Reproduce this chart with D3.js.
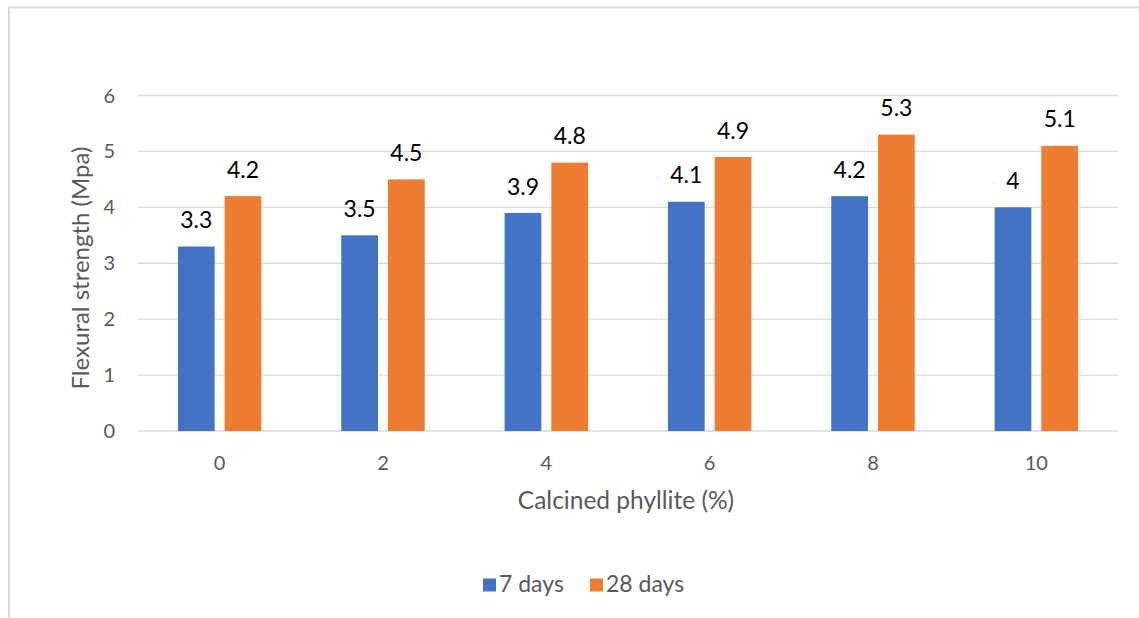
<!DOCTYPE html>
<html>
<head>
<meta charset="utf-8">
<script src="https://cdn.jsdelivr.net/npm/d3@7"></script>
<style>
  html, body { margin: 0; padding: 0; background: #ffffff; }
  svg { display: block; }
  text { font-family: Lato, "Open Sans", sans-serif; }
</style>
</head>
<body>
<svg id="chart" width="1139" height="618"></svg>
<script>
const categories = ["0", "2", "4", "6", "8", "10"];
const seriesNames = ["7 days", "28 days"];
const values7 = [3.3, 3.5, 3.9, 4.1, 4.2, 4.0];
const values28 = [4.2, 4.5, 4.8, 4.9, 5.3, 5.1];
const yTicks = [0, 1, 2, 3, 4, 5, 6];
const colors = ["#4472c4", "#ed7d31"];
const xTitle = "Calcined phyllite (%)";
const yTitle = "Flexural strength (Mpa)";

const seriesValues = [values7, values28];
const svg = d3.select("#chart");

// chart border (extends past the right and bottom edge, as in the reference)
svg.append("rect")
  .attr("x", 9).attr("y", 7.5)
  .attr("width", 1200).attr("height", 700)
  .attr("fill", "none").attr("stroke", "#d9d9d9").attr("stroke-width", 2);

const plotLeft = 138, plotRight = 1118, plotTop = 95.5, plotBottom = 431;

const x0 = d3.scaleBand().domain(categories).range([plotLeft, plotRight]).paddingInner(0).paddingOuter(0);
const x1 = d3.scaleBand().domain(seriesNames).range([0, x0.bandwidth()])
  .paddingInner(0.214).paddingOuter(0.855);
const y = d3.scaleLinear().domain([0, 6]).range([plotBottom, plotTop]);

// gridlines
svg.append("g").selectAll("line").data(yTicks).join("line")
  .attr("x1", plotLeft).attr("x2", plotRight)
  .attr("y1", d => y(d)).attr("y2", d => y(d))
  .attr("stroke", "#d9d9d9").attr("stroke-width", 1.3);

// y tick labels
svg.append("g").selectAll("text").data(yTicks).join("text")
  .attr("x", 115).attr("y", d => y(d))
  .attr("dy", "0.35em")
  .attr("text-anchor", "end")
  .attr("fill", "#595959").attr("font-size", 20)
  .text(d => d);

// bars
const groups = svg.append("g").selectAll("g").data(categories).join("g")
  .attr("transform", c => `translate(${x0(c)},0)`);

groups.selectAll("rect")
  .data((c, i) => seriesNames.map((s, k) => ({ s, k, v: seriesValues[k][i] })))
  .join("rect")
  .attr("x", d => x1(d.s))
  .attr("width", x1.bandwidth())
  .attr("y", d => y(d.v))
  .attr("height", d => y(0) - y(d.v))
  .attr("fill", d => colors[d.k]);

groups.selectAll("text.val")
  .data((c, i) => seriesNames.map((s, k) => ({ s, k, v: seriesValues[k][i] })))
  .join("text")
  .attr("class", "val")
  .attr("x", d => x1(d.s) + x1.bandwidth() / 2)
  .attr("y", d => y(d.v) - 18.4)
  .attr("text-anchor", "middle")
  .attr("fill", "#000000").attr("font-size", 23)
  .text(d => d.v);

// x tick labels
svg.append("g").selectAll("text").data(categories).join("text")
  .attr("x", c => x0(c) + x0.bandwidth() / 2)
  .attr("y", 470)
  .attr("text-anchor", "middle")
  .attr("fill", "#595959").attr("font-size", 20)
  .text(c => c);

// axis titles
svg.append("text")
  .attr("x", 626).attr("y", 509)
  .attr("text-anchor", "middle")
  .attr("fill", "#595959").attr("font-size", 24.5)
  .text(xTitle);

svg.append("text")
  .attr("transform", `translate(88.5,268) rotate(-90)`)
  .attr("text-anchor", "middle")
  .attr("fill", "#595959").attr("font-size", 24)
  .text(yTitle);

// legend
const legend = svg.append("g");
const legendX = [483, 590];
seriesNames.forEach((s, k) => {
  legend.append("rect")
    .attr("x", legendX[k]).attr("y", 578.5)
    .attr("width", 13).attr("height", 13)
    .attr("fill", colors[k]);
  legend.append("text")
    .attr("x", legendX[k] + 16).attr("y", 592)
    .attr("fill", "#595959").attr("font-size", 23)
    .text(s);
});
</script>
</body>
</html>
